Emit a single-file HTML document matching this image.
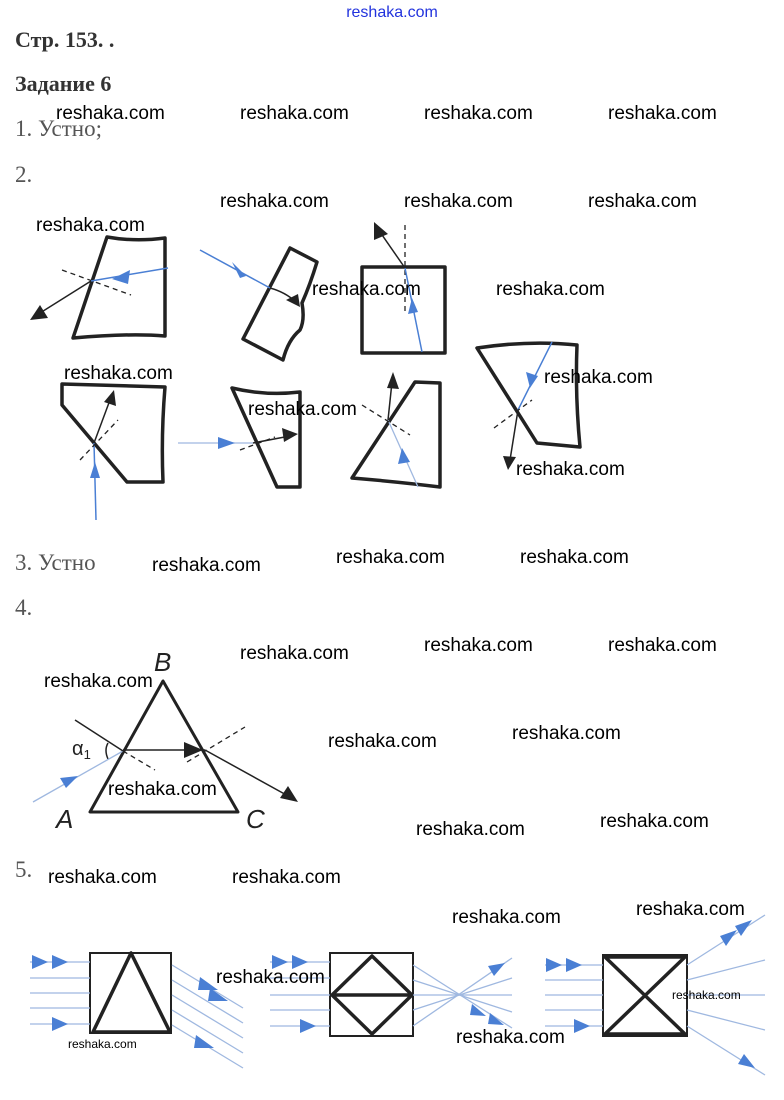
<!DOCTYPE html>
<html><head><meta charset="utf-8"><style>
html,body{margin:0;padding:0;background:#fff;}
svg{display:block;}
.w{font-family:"Liberation Sans",sans-serif;font-size:19px;fill:#000;}
.h{font-family:"Liberation Serif","Noto Serif CJK SC",serif;font-weight:bold;font-size:22px;fill:#333;}
.t{font-family:"Liberation Serif","Noto Serif CJK SC",serif;font-size:23px;fill:#555;}
.k{fill:none;stroke:#222;stroke-width:3.5;stroke-linejoin:round;}
.b{stroke:#4a7fd4;stroke-width:1.5;fill:none;}
.bl{stroke:#9fb8e0;stroke-width:1.3;fill:none;}
.n{stroke:#222;stroke-width:1.5;fill:none;}
.d{stroke:#222;stroke-width:1.3;stroke-dasharray:5,4;fill:none;}
.ba{fill:#4a7fd4;}
.ka{fill:#222;}
.L{font-family:"Liberation Sans",sans-serif;font-style:italic;font-size:26px;fill:#222;}
</style></head><body>
<svg width="784" height="1100" viewBox="0 0 784 1100" xmlns="http://www.w3.org/2000/svg">
<text x="392" y="17" text-anchor="middle" font-family="Liberation Sans,sans-serif" font-size="16" fill="#2233dd">reshaka.com</text>
<text class="h" x="15" y="47">Стр. 153. .</text>
<text class="h" x="15" y="91">Задание 6</text>
<text class="t" x="15" y="136">1. Устно;</text>
<text class="t" x="15" y="182">2.</text>
<text class="t" x="15" y="570">3. Устно</text>
<text class="t" x="15" y="615">4.</text>
<text class="t" x="15" y="877">5.</text>

<!-- Fig 1 -->
<path class="k" d="M107,237 Q135,242 165,238 L165,336 Q130,333 73,338 Z"/>
<line class="d" x1="62" y1="270" x2="131" y2="295"/>
<line class="b" x1="168" y1="268" x2="91" y2="281"/>
<polygon class="ba" points="112,279 130,270 128,284"/>
<line class="n" x1="91" y1="281" x2="40" y2="313"/>
<polygon class="ka" points="30,320 40,305 48,318"/>
<!-- Fig 2 -->
<path class="k" d="M290,248 L317,262 Q310,285 302,303 Q305,320 300,330 Q288,340 283,360 L243,339 Z"/>
<line class="b" x1="200" y1="250" x2="270" y2="288"/>
<polygon class="ba" points="246,276 232,262 240,278"/>
<path class="n" d="M270,288 Q285,292 296,302"/>
<polygon class="ka" points="300,307 286,300 298,294"/>
<!-- Fig 3 -->
<rect class="k" x="362" y="267" width="83" height="86"/>
<line class="d" x1="405" y1="225" x2="405" y2="315"/>
<line class="b" x1="422" y1="352" x2="405" y2="268"/>
<polygon class="ba" points="412,298 408,314 418,312"/>
<line class="n" x1="405" y1="268" x2="380" y2="232"/>
<polygon class="ka" points="374,222 374,240 388,234"/>
<!-- Fig 4 -->
<path class="k" d="M477,348 Q530,340 577,345 Q575,395 580,447 L537,443 Z"/>
<line class="b" x1="552" y1="342" x2="518" y2="410"/>
<polygon class="ba" points="530,388 526,372 538,376"/>
<line class="d" x1="494" y1="428" x2="532" y2="400"/>
<line class="n" x1="518" y1="410" x2="510" y2="460"/>
<polygon class="ka" points="508,470 503,456 516,457"/>
<!-- Fig 5 -->
<path class="k" d="M62,384 L165,387 Q161,435 163,482 L127,482 L62,405 Z"/>
<line class="b" x1="96" y1="520" x2="94" y2="443"/>
<polygon class="ba" points="95,462 90,478 100,478"/>
<line class="d" x1="80" y1="460" x2="118" y2="420"/>
<line class="n" x1="94" y1="443" x2="110" y2="400"/>
<polygon class="ka" points="114,390 104,402 116,406"/>
<!-- Fig 6 -->
<path class="k" d="M232,388 Q265,396 300,392 L300,487 L277,487 Z"/>
<line class="bl" x1="178" y1="443" x2="253" y2="443"/>
<polygon class="ba" points="235,443 218,437 218,449"/>
<line class="d" x1="240" y1="450" x2="275" y2="437"/>
<line class="n" x1="253" y1="443" x2="290" y2="436"/>
<polygon class="ka" points="298,434 282,428 284,442"/>
<!-- Fig 7 -->
<path class="k" d="M352,478 L415,382 L440,383 L440,487 Q400,482 352,478 Z"/>
<line class="bl" x1="418" y1="487" x2="388" y2="420"/>
<polygon class="ba" points="402,448 398,464 410,462"/>
<line class="d" x1="362" y1="405" x2="410" y2="435"/>
<line class="n" x1="388" y1="420" x2="392" y2="382"/>
<polygon class="ka" points="393,372 387,388 399,389"/>

<!-- Section 4 -->
<path class="k" d="M163,681 L90,812 L238,812 Z" style="stroke-width:3"/>
<text class="L" x="154" y="671">B</text>
<text class="L" x="56" y="828">A</text>
<text class="L" x="246" y="828">C</text>
<text x="72" y="755" font-family="Liberation Sans,sans-serif" font-size="20" fill="#222">α<tspan font-size="13" dy="4">1</tspan></text>
<path class="n" d="M108,743 Q104,750 108,759"/>
<line class="bl" x1="33" y1="802" x2="123" y2="751"/>
<polygon class="ba" points="78,776 60,778 66,788"/>
<line class="n" x1="75" y1="720" x2="123" y2="751"/>
<line class="d" x1="123" y1="751" x2="155" y2="770"/>
<line class="n" x1="123" y1="750" x2="205" y2="750"/>
<polygon class="ka" points="203,750 184,742 184,758"/>
<line class="d" x1="187" y1="762" x2="245" y2="727"/>
<line class="n" x1="205" y1="750" x2="290" y2="797"/>
<polygon class="ka" points="298,802 280,798 288,786"/>

<!-- Section 5 Fig A -->
<rect x="90" y="953" width="81" height="80" fill="none" stroke="#222" stroke-width="2"/>
<path class="k" d="M131,953 L93,1032 L170,1032 Z"/>
<g class="bl">
<line x1="30" y1="962" x2="90" y2="962"/><line x1="30" y1="978" x2="90" y2="978"/><line x1="30" y1="993" x2="90" y2="993"/><line x1="30" y1="1008" x2="90" y2="1008"/><line x1="30" y1="1024" x2="90" y2="1024"/>
<line x1="172" y1="965" x2="243" y2="1008"/><line x1="172" y1="980" x2="243" y2="1023"/><line x1="172" y1="995" x2="243" y2="1038"/><line x1="172" y1="1010" x2="243" y2="1053"/><line x1="172" y1="1025" x2="243" y2="1068"/>
</g>
<polygon class="ba" points="48,962 32,955 32,969"/><polygon class="ba" points="68,962 52,955 52,969"/><polygon class="ba" points="68,1024 52,1017 52,1031"/>
<polygon class="ba" points="218,990 200,977 198,990"/><polygon class="ba" points="228,1001 210,988 208,1001"/><polygon class="ba" points="214,1048 196,1035 194,1048"/>
<!-- Fig B -->
<rect x="330" y="953" width="83" height="83" fill="none" stroke="#222" stroke-width="2"/>
<path class="k" d="M372,956 L412,995 L372,1034 L332,995 Z M332,995 L412,995"/>
<g class="bl">
<line x1="270" y1="962" x2="330" y2="962"/><line x1="270" y1="978" x2="330" y2="978"/><line x1="270" y1="995" x2="330" y2="995"/><line x1="270" y1="1010" x2="330" y2="1010"/><line x1="270" y1="1026" x2="330" y2="1026"/>
<line x1="413" y1="965" x2="512" y2="1028"/><line x1="413" y1="980" x2="512" y2="1012"/><line x1="413" y1="995" x2="512" y2="995"/><line x1="413" y1="1010" x2="512" y2="978"/><line x1="413" y1="1026" x2="512" y2="958"/>
</g>
<polygon class="ba" points="288,962 272,955 272,969"/><polygon class="ba" points="308,962 292,955 292,969"/><polygon class="ba" points="316,1026 300,1019 300,1033"/>
<polygon class="ba" points="505,963 488,966 494,976"/><polygon class="ba" points="486,1016 472,1004 470,1015"/><polygon class="ba" points="504,1025 490,1013 488,1024"/>
<!-- Fig C -->
<rect x="603" y="955" width="84" height="81" fill="none" stroke="#222" stroke-width="2"/>
<path class="k" d="M605,957 L685,957 L605,1034 L685,1034 Z"/>
<g class="bl">
<line x1="545" y1="965" x2="603" y2="965"/><line x1="545" y1="980" x2="603" y2="980"/><line x1="545" y1="995" x2="603" y2="995"/><line x1="545" y1="1010" x2="603" y2="1010"/><line x1="545" y1="1026" x2="603" y2="1026"/>
<line x1="687" y1="965" x2="765" y2="915"/><line x1="687" y1="980" x2="765" y2="960"/><line x1="687" y1="995" x2="765" y2="995"/><line x1="687" y1="1010" x2="765" y2="1030"/><line x1="687" y1="1026" x2="765" y2="1075"/>
</g>
<polygon class="ba" points="562,965 546,958 546,972"/><polygon class="ba" points="582,965 566,958 566,972"/><polygon class="ba" points="590,1026 574,1019 574,1033"/>
<polygon class="ba" points="737,930 720,936 726,946"/><polygon class="ba" points="752,920 735,926 741,936"/><polygon class="ba" points="755,1068 744,1054 738,1064"/>

<!-- watermarks -->
<g class="w">
<text x="56" y="119">reshaka.com</text><text x="240" y="119">reshaka.com</text><text x="424" y="119">reshaka.com</text><text x="608" y="119">reshaka.com</text>
<text x="220" y="207">reshaka.com</text><text x="404" y="207">reshaka.com</text><text x="588" y="207">reshaka.com</text>
<text x="36" y="231">reshaka.com</text>
<text x="312" y="295">reshaka.com</text><text x="496" y="295">reshaka.com</text>
<text x="64" y="379">reshaka.com</text><text x="544" y="383">reshaka.com</text>
<text x="248" y="415">reshaka.com</text><text x="516" y="475">reshaka.com</text>
<text x="336" y="563">reshaka.com</text><text x="520" y="563">reshaka.com</text><text x="152" y="571">reshaka.com</text>
<text x="424" y="651">reshaka.com</text><text x="608" y="651">reshaka.com</text><text x="240" y="659">reshaka.com</text>
<text x="44" y="687">reshaka.com</text>
<text x="512" y="739">reshaka.com</text><text x="328" y="747">reshaka.com</text>
<text x="108" y="795">reshaka.com</text>
<text x="600" y="827">reshaka.com</text><text x="416" y="835">reshaka.com</text>
<text x="48" y="883">reshaka.com</text><text x="232" y="883">reshaka.com</text>
<text x="636" y="915">reshaka.com</text><text x="452" y="923">reshaka.com</text>
<text x="216" y="983">reshaka.com</text>
<text x="456" y="1043">reshaka.com</text>
</g>
<text x="68" y="1048" font-family="Liberation Sans,sans-serif" font-size="12">reshaka.com</text>
<text x="672" y="999" font-family="Liberation Sans,sans-serif" font-size="12">reshaka.com</text>
</svg>
</body></html>
